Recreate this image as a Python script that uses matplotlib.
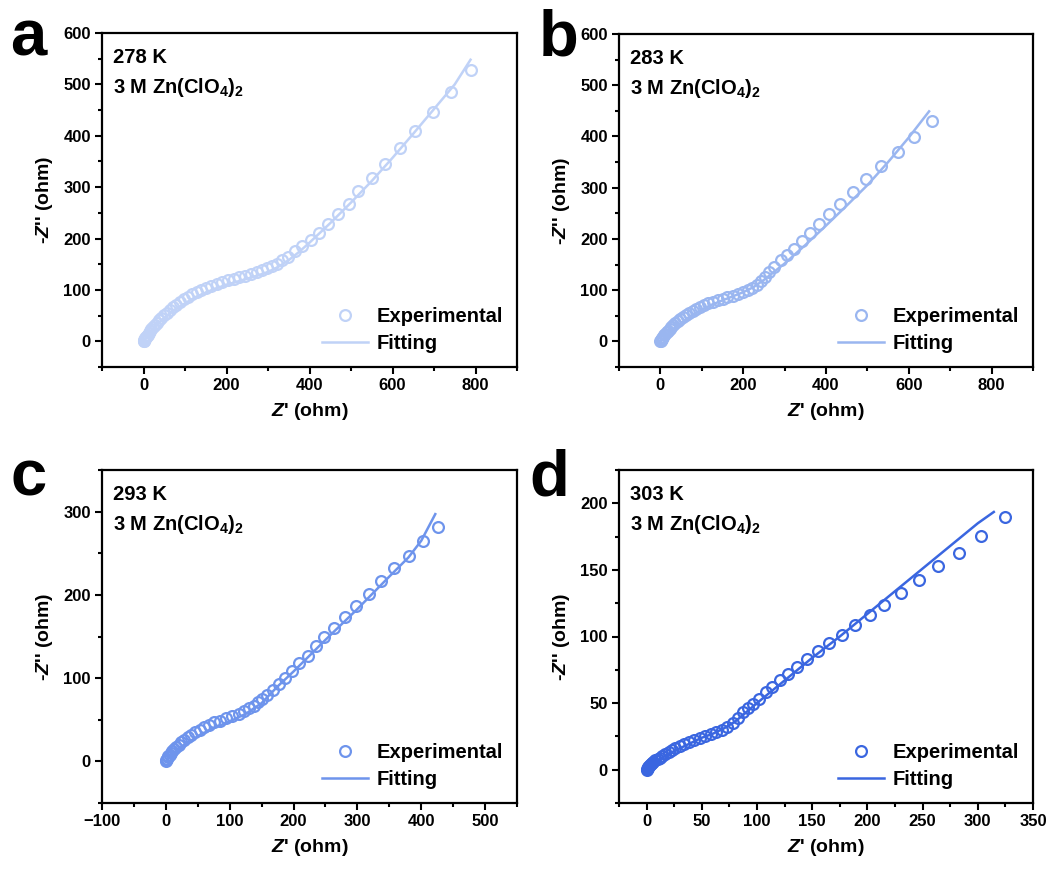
import matplotlib
matplotlib.use("Agg")
import matplotlib.pyplot as plt
from matplotlib.ticker import MultipleLocator, AutoMinorLocator

plt.rcParams['font.family'] = ['Liberation Sans', 'DejaVu Sans']
plt.rcParams['font.weight'] = 'bold'
plt.rcParams['mathtext.fontset'] = 'custom'
plt.rcParams['mathtext.rm'] = 'Liberation Sans:bold'
plt.rcParams['mathtext.it'] = 'Liberation Sans:italic:bold'
plt.rcParams['mathtext.bf'] = 'Liberation Sans:bold'

# ---------------- data ----------------
panel_letters = ['a', 'b', 'c', 'd']
temperatures = ['278 K', '283 K', '293 K', '303 K']
colors = ['#c0d2f7', '#9ab6f0', '#6e94ec', '#3a66e0']

a_exp_x = [0, 1, 2, 3, 4, 6, 8, 10, 13, 16, 19, 23, 27, 32, 37, 43, 49, 56, 63, 71,
           79, 88, 97, 107, 117, 128, 139, 151, 163, 176, 189, 203, 217, 231, 245, 259, 273, 286, 298, 309,
           321, 334, 349, 365, 383, 403, 424, 445, 468, 494, 518, 550, 583, 619, 654, 697, 742, 790]
a_exp_y = [0, 1, 3, 4, 6, 8, 11, 13, 17, 20, 23, 27, 31, 36, 41, 46, 51, 56, 61, 66,
           71, 76, 82, 87, 92, 96, 100, 104, 108, 112, 116, 119, 122, 125, 128, 131, 135, 139, 143, 146,
           151, 158, 165, 175, 186, 198, 211, 229, 248, 268, 292, 317, 346, 377, 410, 446, 485, 528]
a_fit_x = [0, 5, 10, 20, 30, 45, 60, 80, 100, 125, 150, 175, 200, 225, 250, 275, 300, 325, 350,
           375, 400, 450, 500, 550, 600, 650, 700, 750, 788]
a_fit_y = [0, 5, 11, 21, 30, 42, 52, 64, 74, 86, 95, 103, 110, 116, 122, 128, 135, 145, 158,
           174, 192, 230, 270, 312, 357, 404, 452, 500, 548]

b_exp_x = [0, 1, 2, 3, 5, 7, 9, 12, 15, 18, 22, 26, 31, 36, 42, 48, 55, 62, 70, 78,
           87, 96, 106, 116, 127, 138, 150, 162, 175, 188, 200, 212, 222, 233, 242, 252, 263, 275, 291, 305,
           323, 341, 362, 384, 407, 435, 465, 497, 533, 574, 613, 656]
b_exp_y = [0, 1, 3, 5, 7, 9, 12, 15, 18, 21, 24, 28, 32, 36, 40, 44, 48, 52, 56, 60,
           64, 67, 71, 74, 77, 80, 83, 86, 89, 92, 96, 100, 105, 111, 118, 126, 136, 146, 159, 169,
           180, 195, 212, 230, 248, 269, 292, 316, 342, 370, 399, 430]
b_fit_x = [0, 5, 10, 20, 35, 50, 75, 100, 125, 150, 175, 200, 225, 250, 275, 300, 350, 400, 450,
           500, 550, 600, 649]
b_fit_y = [0, 4, 8, 16, 26, 36, 50, 62, 72, 80, 88, 96, 106, 120, 136, 152, 188, 226, 265,
           305, 350, 398, 449]

c_exp_x = [0, 1, 2, 3, 4, 6, 8, 10, 13, 16, 20, 24, 29, 34, 40, 46, 53, 60, 68, 76,
           85, 94, 104, 114, 123, 131, 138, 144, 151, 159, 168, 177, 187, 197, 209, 222, 235, 248, 264, 281,
           298, 318, 337, 358, 381, 403, 426]
c_exp_y = [0, 2, 3, 5, 6, 8, 10, 12, 15, 17, 20, 23, 26, 29, 32, 35, 38, 41, 44, 47,
           49, 52, 54, 57, 60, 64, 67, 71, 75, 80, 86, 93, 100, 108, 118, 126, 138, 149, 160, 174,
           187, 201, 217, 232, 247, 265, 281]
c_fit_x = [0, 5, 10, 20, 35, 50, 75, 100, 125, 150, 175, 200, 250, 300, 350, 380, 400, 422]
c_fit_y = [0, 4, 8, 15, 23, 30, 40, 48, 57, 70, 90, 108, 146, 183, 222, 245, 265, 297]

d_exp_x = [0, 0.5, 1, 1.5, 2, 3, 4, 5, 6, 8, 10, 12, 14, 17, 20, 23, 26, 30, 34, 38,
           43, 48, 53, 58, 63, 68, 73, 78, 83, 87, 92, 96, 102, 108, 114, 121, 128, 136, 145, 155,
           165, 177, 189, 202, 215, 230, 247, 264, 283, 303, 324.5]
d_exp_y = [0, 0.5, 1.5, 2, 3, 3.5, 4, 5, 6, 7, 8, 9, 10, 11.5, 13, 14.5, 16, 17.5, 19, 20.5,
           22, 24, 25.5, 27, 28.5, 30, 32, 35, 39, 43, 46, 49, 53, 58, 62, 67, 72, 77, 83, 89,
           95, 101.5, 109, 116.5, 124, 132.7, 142.6, 152.6, 162.6, 175.6, 189.5]
d_fit_x = [0, 2, 5, 10, 20, 30, 40, 50, 60, 70, 80, 90, 100, 125, 150, 175, 200, 225, 250, 275, 300, 314.5]
d_fit_y = [0, 2, 4, 7, 12, 16, 20, 24, 27, 31, 36, 43, 50, 67, 84, 100, 117, 134, 151, 168, 185, 193.5]

exp_x = [a_exp_x, b_exp_x, c_exp_x, d_exp_x]
exp_y = [a_exp_y, b_exp_y, c_exp_y, d_exp_y]
fit_x = [a_fit_x, b_fit_x, c_fit_x, d_fit_x]
fit_y = [a_fit_y, b_fit_y, c_fit_y, d_fit_y]

xlims = [(-100, 900), (-100, 900), (-100, 550), (-25, 350)]
ylims = [(-50, 600), (-50, 600), (-50, 350), (-25, 225)]
xmajor = [200, 200, 100, 50]
ymajor = [100, 100, 100, 50]

# ---------------- figure ----------------
fig = plt.figure(figsize=(10.5, 8.69), dpi=100)
W, H = 1050, 869
boxes = [(102, 33, 517, 367), (619, 34, 1033, 367), (102, 470, 517, 803), (619, 470, 1033, 803)]
letter_pos = [(10, 56), (539, 56), (10, 495), (529, 495)]

for i in range(4):
    l, t, r, b = boxes[i]
    ax = fig.add_axes([l / W, 1 - b / H, (r - l) / W, (b - t) / H])
    ax.plot(exp_x[i], exp_y[i], linestyle='none', marker='o', markersize=7.8,
            markerfacecolor='none', markeredgecolor=colors[i], markeredgewidth=1.6,
            label='Experimental', zorder=3)
    ax.plot(fit_x[i], fit_y[i], color=colors[i], linewidth=1.8, label='Fitting', zorder=2)
    ax.set_xlim(*xlims[i])
    ax.set_ylim(*ylims[i])
    ax.xaxis.set_major_locator(MultipleLocator(xmajor[i]))
    ax.yaxis.set_major_locator(MultipleLocator(ymajor[i]))
    ax.xaxis.set_minor_locator(AutoMinorLocator(2))
    ax.yaxis.set_minor_locator(AutoMinorLocator(2))
    for s in ax.spines.values():
        s.set_linewidth(1.6)
    ax.tick_params(which='major', direction='out', length=5, width=1.5, labelsize=12,
                   top=False, right=False, pad=3)
    ax.tick_params(which='minor', direction='out', length=3, width=1.5, top=False, right=False)
    for lab in ax.get_xticklabels() + ax.get_yticklabels():
        lab.set_fontweight('bold')
    ax.set_xlabel("$\\it{Z}$' (ohm)", fontsize=14, fontweight='bold', labelpad=6)
    ax.set_ylabel("-$\\it{Z}$'' (ohm)", fontsize=14, fontweight='bold', labelpad=6)
    ax.text(0.027, 0.955, temperatures[i] + '\n3 M Zn(ClO$_4$)$_2$', transform=ax.transAxes,
            ha='left', va='top', fontsize=14.5, fontweight='bold', linespacing=1.55)
    leg = ax.legend(loc='lower right', bbox_to_anchor=(1.0, 0.0), frameon=False,
                    fontsize=14.5, handlelength=2.3, handletextpad=0.4, borderaxespad=0.3,
                    labelspacing=0.4, markerscale=1.0)
    for txt in leg.get_texts():
        txt.set_fontweight('bold')
    fig.text(letter_pos[i][0] / W, 1 - letter_pos[i][1] / H, panel_letters[i],
             fontsize=47, fontweight='bold', ha='left', va='baseline')

fig.savefig('out.png', dpi=100)
